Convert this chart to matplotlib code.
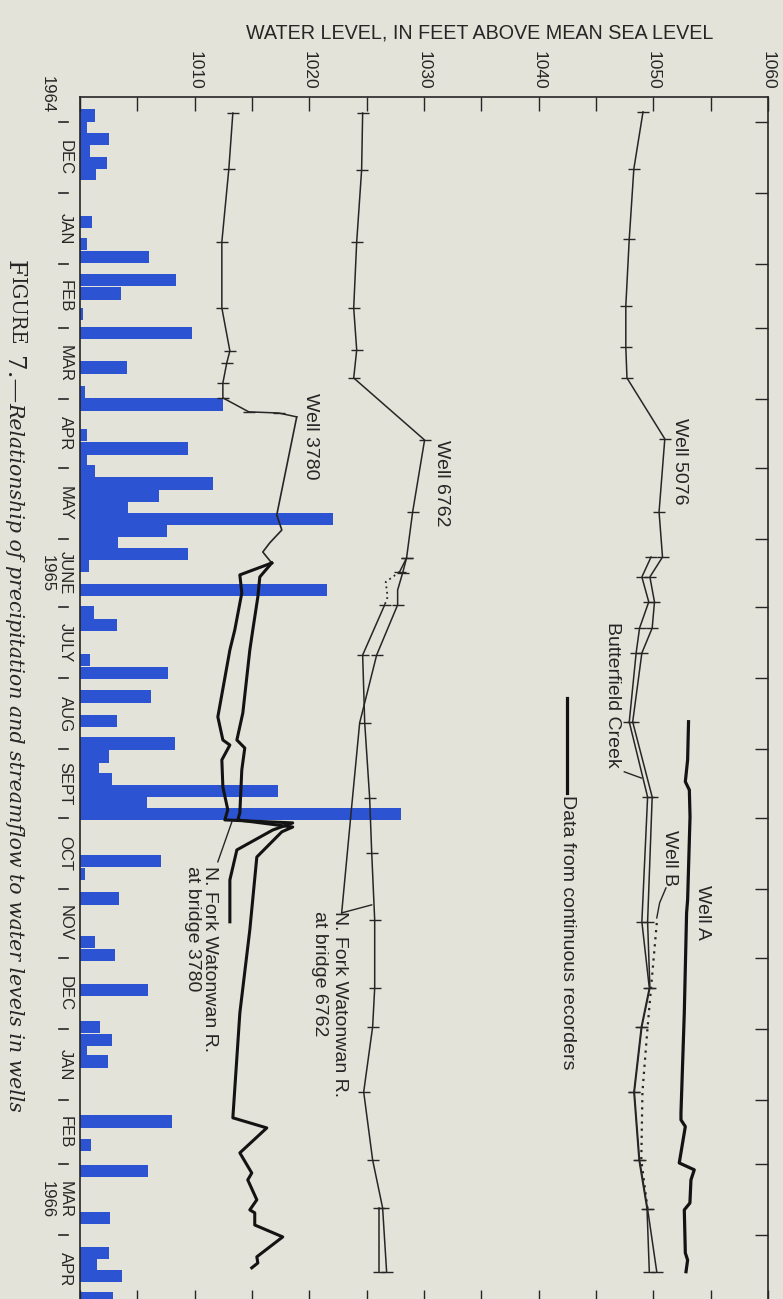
import datetime as dt
import numpy as np
import matplotlib
matplotlib.use("Agg")
import matplotlib.pyplot as plt

plt.rcParams['font.family'] = ['Liberation Sans', 'DejaVu Sans']

# ------------------------------------------------------------------ data
# Time is given in days after 1 December 1964; levels in feet above MSL.
ORIGIN = dt.date(1964, 12, 1)
level_ticks = [1010, 1020, 1030, 1040, 1050, 1060]
month_labels = ['DEC', 'JAN', 'FEB', 'MAR', 'APR', 'MAY', 'JUNE', 'JULY', 'AUG',
                'SEPT', 'OCT', 'NOV', 'DEC', 'JAN', 'FEB', 'MAR', 'APR']
year_labels = ['1964', '1965', '1966']

# precipitation bars (bar length in axis units, drawn from the 1000-ft edge)
precip_day = [-2.8, 2.6, 7.6, 12.9, 17.9, 22.9, 43.7, 53.3, 59.0, 69.0, 74.9, 83.8,
              92.1, 107.2, 118.1, 123.4, 136.7, 142.6, 147.6, 152.4, 157.9, 163.3,
              168.3, 173.4, 178.6, 183.6, 188.6, 194.1, 204.4, 214.2, 219.7, 234.9,
              240.8, 250.9, 261.6, 271.4, 277.1, 282.5, 286.9, 292.1, 297.2, 302.2,
              322.9, 328.4, 339.1, 358.3, 363.8, 379.0, 395.2, 400.9, 405.5, 410.3,
              436.5, 446.7, 458.3, 478.8, 494.1, 499.1, 504.1, 513.5]
precip_bar = [1.31, 0.61, 2.53, 0.87, 2.35, 1.39, 1.05, 0.61, 6.01, 8.36, 3.57, 0.26,
              9.76, 4.09, 0.44, 12.46, 0.61, 9.41, 0.61, 1.31, 11.59, 6.88,
              4.18, 22.04, 7.58, 3.31, 9.41, 0.78, 21.5, 1.22, 3.22, 0.87,
              7.67, 6.18, 3.22, 8.28, 2.53, 1.66, 2.79, 17.25, 5.84, 27.96,
              7.06, 0.44, 3.40, 1.31, 3.05, 5.92, 1.74, 2.79, 0.61, 2.44,
              8.01, 0.96, 5.92, 2.61, 2.53, 1.48, 3.66, 2.87]

# Well 5076 (periodic measurements)
well_5076_day = [-4.4, 20.5, 51.1, 80.3, 98.3, 111.8, 138.4, 170.3, 190.0, 198.7, 209.6,
                 221.0, 231.9, 262.0, 294.8, 349.3, 378.2, 395.2, 423.6, 453.3, 474.7, 502.2]
well_5076_ft = [1049.1, 1048.3, 1047.9, 1047.6, 1047.6, 1047.7, 1051.0, 1050.5, 1050.8,
                1049.7, 1050.1, 1049.9, 1049.0, 1048.2, 1049.9, 1049.5, 1049.7, 1049.0,
                1048.35, 1048.8, 1049.5, 1050.3]
# Butterfield Creek
butterfield_day = [190.0, 198.7, 209.6, 221.0, 231.9, 262.0, 294.8, 349.3, 378.2, 395.2,
                   423.6, 453.3, 474.7, 502.2]
butterfield_ft = [1049.8, 1049.0, 1049.6, 1048.8, 1048.5, 1047.9, 1049.5, 1049.0, 1049.65,
                  1048.95, 1048.3, 1048.75, 1049.45, 1049.65]
# Well B (dotted)
well_b_day = [349.8, 378.2, 395.2, 423.6, 453.3, 474.7]
well_b_ft = [1050.3, 1049.8, 1049.5, 1049.05, 1048.95, 1049.5]
# Well A (continuous recorder)
well_a_day = [261.9, 278.6, 288.1, 291.7, 303.4, 339.7, 345.4, 389.1, 432.8, 435.8, 438.7,
              454.6, 457.6, 462.0, 472.1, 475.1, 493.9, 497.0, 502.1]
well_a_ft = [1053.07, 1052.99, 1052.79, 1053.14, 1053.2, 1052.99, 1052.9, 1052.7, 1052.41,
             1052.41, 1052.79, 1052.26, 1053.57, 1053.28, 1053.19, 1052.7, 1052.79,
             1052.99, 1052.85]

# Well 6762 (periodic measurements)
well_6762_day = [-3.9, 21.0, 52.4, 81.2, 99.6, 111.8, 138.9, 170.3, 190.4, 196.5]
well_6762_ft = [1024.65, 1024.56, 1024.13, 1023.87, 1024.13, 1023.87, 1030.05, 1029.01,
                1028.48, 1027.87]
well_6762_gap_day = [196.5, 200.9, 207.4, 210.9]
well_6762_gap_ft = [1027.87, 1026.66, 1026.83, 1026.57]
well_6762_late_day = [210.9, 232.8, 262.4, 295.2, 319.2, 348.5, 378.2, 395.2, 423.6,
                      453.3, 474.2, 502.2]
well_6762_late_ft = [1026.57, 1024.65, 1024.83, 1025.26, 1025.44, 1025.7, 1025.7, 1025.52,
                     1024.74, 1025.52, 1026.39, 1026.74]
# N. Fork Watonwan R. at bridge 6762
bridge_6762_day = [190.4, 196.9, 204.4, 210.9, 232.8, 262.4, 299.1, 345.4]
bridge_6762_ft = [1028.48, 1028.14, 1027.7, 1027.7, 1025.87, 1024.39, 1023.69, 1022.82]
bridge_6762_spring_day = [474.2, 502.2]
bridge_6762_spring_ft = [1026.1, 1026.1]

# Well 3780 (periodic measurements, then continuous)
well_3780_day = [-3.9, 20.5, 52.4, 81.2, 100.0, 105.2, 114.0, 120.5, 126.6, 127.1, 128.8]
well_3780_ft = [1013.33, 1012.98, 1012.37, 1012.37, 1013.07, 1012.8, 1012.46, 1012.46,
                1014.72, 1017.33, 1018.9]
well_3780_link_day = [128.8, 171.6, 178.2, 183.8, 187.8, 192.6]
well_3780_link_ft = [1018.9, 1017.16, 1017.6, 1016.55, 1015.94, 1016.72]
well_3780_rec_day = [192.6, 198.7, 207.4, 221.8, 230.6, 258.1, 269.9, 273.4, 283.0, 301.7,
                     304.8, 307.9, 310.0, 321.0, 352.8, 389.1, 434.9, 439.3, 450.2, 459.0,
                     462.0, 470.7, 475.1, 476.4, 481.7, 486.9, 495.6, 498.3, 500.4]
well_3780_rec_ft = [1016.72, 1015.68, 1015.51, 1015.07, 1014.81, 1014.2, 1013.68, 1014.37,
                    1014.11, 1013.94, 1013.76, 1018.55, 1017.6, 1015.42, 1014.81, 1013.94,
                    1013.33, 1016.29, 1013.94, 1014.98, 1014.63, 1015.42, 1014.81, 1015.24,
                    1015.24, 1017.68, 1015.42, 1015.51, 1014.98]
# N. Fork Watonwan R. at bridge 3780
bridge_3780_day = [192.6, 197.8, 205.7, 221.8, 230.6, 259.8, 269.9, 272.1, 278.6, 290.4,
                   300.4, 304.8, 306.1, 309.2, 317.9, 331.0, 349.3]
bridge_3780_ft = [1016.72, 1013.94, 1014.11, 1013.5, 1013.07, 1012.02, 1012.46, 1013.07,
                  1012.37, 1012.46, 1012.89, 1012.63, 1018.55, 1016.81, 1013.68, 1013.07,
                  1013.07]

# ------------------------------------------------------------------ style
BG = '#e3e3d9'
INK = '#262626'
THICK = '#131313'
BLUE = '#2b53d2'
W, H = 783, 1299

fig = plt.figure(figsize=(W / 100, H / 100), dpi=100)
fig.patch.set_facecolor(BG)
ax = fig.add_axes([80 / W, 1 - 1304 / H, 688 / W, 1207 / H])
ax.set_facecolor(BG)
ax.set_xlim(1000, 1060)
ax.set_ylim(516.2, -10.9)
for s in ax.spines.values():
    s.set_color(INK)
    s.set_linewidth(1.2)

# precipitation bars
ax.barh(precip_day, precip_bar, left=1000, height=5.3, color=BLUE, zorder=1,
        linewidth=0)

thin = dict(color=INK, lw=1.1, zorder=3)
tk = dict(marker='_', ms=9, mew=1.0, mec=INK)

ax.plot(well_5076_ft, well_5076_day, **thin, **tk)
ax.plot(butterfield_ft, butterfield_day, **thin, **tk)
ax.plot(well_b_ft, well_b_day, color=INK, lw=1.6, ls=(0, (1, 2.2)), zorder=3)
ax.plot(well_a_ft, well_a_day, color=THICK, lw=2.3, zorder=4)

ax.plot(well_6762_ft, well_6762_day, **thin, **tk)
ax.plot(well_6762_gap_ft, well_6762_gap_day, color=INK, lw=1.3, ls=(0, (1, 2)), zorder=3)
ax.plot(well_6762_late_ft, well_6762_late_day, **thin, **tk)
ax.plot(bridge_6762_ft, bridge_6762_day, color=INK, lw=1.1, zorder=3,
        marker='_', ms=9, mew=1.0, mec=INK, markevery=[0, 1, 3, 4])
ax.plot(bridge_6762_spring_ft, bridge_6762_spring_day, **thin, **tk)

ax.plot(well_3780_ft, well_3780_day, **thin, **tk, markevery=list(range(10)))
ax.plot(well_3780_link_ft, well_3780_link_day, color=INK, lw=1.2, zorder=3)
ax.plot(well_3780_rec_ft, well_3780_rec_day, color=THICK, lw=2.2, zorder=4)
ax.plot(bridge_3780_ft, bridge_3780_day, color=THICK, lw=2.2, zorder=4)

# leaders
lead = dict(color=INK, lw=1.0, zorder=3)
ax.plot([1012.02, 1013.24], [323.1, 305.7], **lead)
ax.plot([1022.82, 1025.44], [345.4, 341.9], **lead)
ax.plot([1047.47, 1048.95], [283.8, 286.5], **lead)
ax.plot([1051.1, 1050.55, 1050.3], [334.5, 341.0, 347.6], **lead)

# legend sample line
ax.plot([1042.51, 1042.51], [251.5, 293.0], color=THICK, lw=2.3, zorder=4)

lab = dict(rotation=-90, ha='center', va='top', fontsize=14, color=INK, zorder=5)
ax.text(1052.26, 129.3, 'Well 5076', **lab)
ax.text(1031.53, 138.9, 'Well 6762', **lab)
ax.text(1020.12, 118.3, 'Well 3780', **lab)
ax.text(1046.43, 218.3, 'Butterfield Creek', **lab)
ax.text(1051.39, 309.2, 'Well B', **lab)
ax.text(1054.27, 333.2, 'Well A', **lab)
ax.text(1042.51, 293.9, 'Data from continuous recorders', **lab)
ax.text(1022.65, 344.5, 'N. Fork Watonwan R.', **lab)
ax.text(1020.9, 344.5, 'at bridge 6762', **lab)
ax.text(1011.3, 325.0, 'N. Fork Watonwan R.', **lab)
ax.text(1009.8, 325.0, 'at bridge 3780', **lab)

# x axis (water level) on top
ax.set_xticks(np.arange(1000, 1061, 5))
ax.set_xticklabels([str(v) if v in level_ticks else '' for v in range(1000, 1061, 5)])
ax.tick_params(axis='x', direction='in', length=10, width=1.0, color=INK,
               top=True, bottom=True, labeltop=True, labelbottom=False,
               labelrotation=-90, pad=5, labelsize=12.5, labelcolor=INK)

# months
month_days = []
for k in range(18):
    y = 1964 + (11 + k) // 12
    m = (11 + k) % 12 + 1
    month_days.append((dt.date(y, m, 1) - ORIGIN).days)
ax.set_yticks(month_days[:-1])
ax.tick_params(axis='y', direction='in', length=9.5, width=1.0, color=INK,
               left=False, right=True, labelleft=False, labelright=False)

yt = ax.get_yaxis_transform()
xm = (65 - 80) / 688
for i, name in enumerate(month_labels):
    c = 0.5 * (month_days[i] + month_days[i + 1])
    ax.text(xm, c, name, transform=yt, rotation=-90, ha='center', va='center',
            fontsize=12, color=INK, clip_on=False)
for d in month_days[:-1]:
    ax.plot([(59 - 80) / 688, (68 - 80) / 688], [d, d], transform=yt, color=INK,
            lw=1.2, clip_on=False)
xy = (47 - 80) / 688
year_pos = [-11.8, 0.5 * (month_days[6] + month_days[7]), 0.5 * (month_days[15] + month_days[16])]
for s, d in zip(year_labels, year_pos):
    ax.text(xy, d, s, transform=yt, rotation=-90, ha='center', va='center',
            fontsize=12, color=INK, clip_on=False)

fig.text(480 / W, 1 - 33 / H, 'WATER LEVEL, IN FEET ABOVE MEAN SEA LEVEL',
         ha='center', va='center', fontsize=14.2, color=INK)

# caption: "FIGURE" in small capitals, then italic title
fig.canvas.draw()
r = fig.canvas.get_renderer()

probe = fig.text(0.5, 0.5, 'Relationship of precipitation and streamflow to water levels in wells',
                 rotation=-90, family='DejaVu Serif', style='italic', fontsize=12)
base = 12 * 711 / probe.get_window_extent(r).height
probe.remove()

pieces = [('F', 1.2, 'normal'), ('IGURE', 0.95, 'normal'), (' 7.—', 1.2, 'normal'),
          ('Relationship of precipitation and streamflow to water levels in wells', 1.0, 'italic')]
ytop = 260.0
for txt, scale, st in pieces:
    t = fig.text(14.5 / W, 1 - ytop / H, txt, rotation=-90, ha='center', va='top',
                 family='DejaVu Serif', style=st, fontsize=base * scale, color=INK)
    if txt == 'IGURE':
        t.set_x(16.5 / W)
    bb = t.get_window_extent(r)
    ytop += bb.height

fig.savefig('out.png', dpi=100, facecolor=BG)
